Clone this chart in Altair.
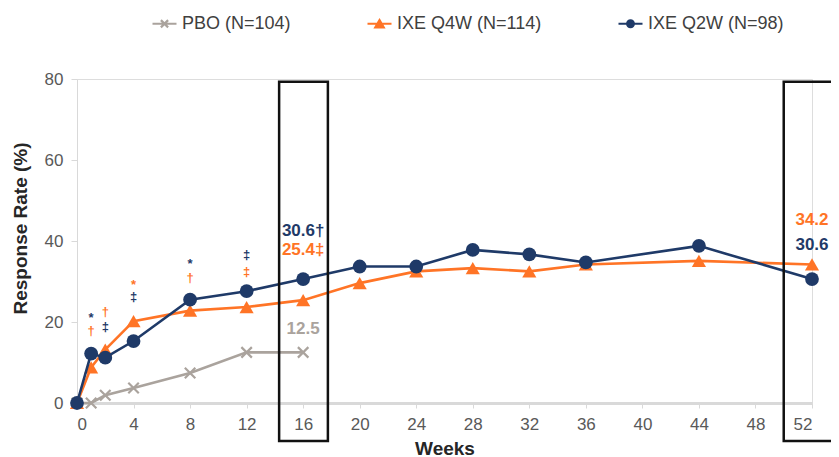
import altair as alt
import pandas as pd

# ---------------- data ----------------
series_names = ["PBO (N=104)", "IXE Q4W (N=114)", "IXE Q2W (N=98)"]
series_colors = ["#aaa39d", "#ff7426", "#1f3a68"]

x_ticks = [0, 4, 8, 12, 16, 20, 24, 28, 32, 36, 40, 44, 48, 52]
y_ticks = [0, 20, 40, 60, 80]

pbo_weeks = [0, 1, 2, 4, 8, 12, 16]
pbo_values = [0, 0, 1.9, 3.7, 7.4, 12.5, 12.5]

ixe_weeks = [0, 1, 2, 4, 8, 12, 16, 20, 24, 28, 32, 36, 44, 52]
q4w_values = [0, 8.8, 13.2, 20.2, 22.8, 23.7, 25.4, 29.6, 32.5, 33.3, 32.5, 34.2, 35.1, 34.2]
q2w_values = [0, 12.2, 11.2, 15.3, 25.5, 27.6, 30.6, 33.7, 33.7, 37.8, 36.7, 34.7, 38.8, 30.6]

# value labels
label_weeks = [16, 16, 16, 52, 52]
label_y = [42.5, 37.8, 18.3, 45.2, 39.0]
label_text = ["30.6†", "25.4‡", "12.5", "34.2", "30.6"]
label_series = [series_names[2], series_names[1], series_names[0], series_names[1], series_names[2]]

# significance markers
sig_weeks = [1, 1, 2, 2, 4, 4, 8, 8, 12, 12]
sig_y = [21.0, 17.8, 22.5, 18.8, 29.2, 26.2, 34.2, 30.9, 36.5, 32.3]
sig_text = ["*", "†", "†", "‡", "*", "‡", "*", "†", "‡", "‡"]
sig_series = [series_names[2], series_names[1], series_names[1], series_names[2],
              series_names[1], series_names[2], series_names[2], series_names[1],
              series_names[2], series_names[1]]

# highlight boxes (in data units)
box_left = [14.3, 50.0]
box_right = [17.75, 57.0]
box_top = [79.3, 79.3]
box_bottom = [-9.4, -9.4]

# ---------------- frames ----------------
rows = []
for w, v in zip(pbo_weeks, pbo_values):
    rows.append({"week": w, "value": v, "series": series_names[0]})
for w, v in zip(ixe_weeks, q4w_values):
    rows.append({"week": w, "value": v, "series": series_names[1]})
for w, v in zip(ixe_weeks, q2w_values):
    rows.append({"week": w, "value": v, "series": series_names[2]})
df = pd.DataFrame(rows)

labels_df = pd.DataFrame({"week": label_weeks, "value": label_y, "text": label_text, "series": label_series})
sig_df = pd.DataFrame({"week": sig_weeks, "value": sig_y, "text": sig_text, "series": sig_series})
box_df = pd.DataFrame({"x1": box_left, "x2": box_right, "y1": box_top, "y2": box_bottom})

FONT = "Liberation Sans"

x_enc = alt.X("week:Q", scale=alt.Scale(domain=[0, 52], nice=False),
              axis=alt.Axis(values=x_ticks, title="Weeks", grid=False,
                            domainColor="#d9d9d9", domainWidth=3,
                            tickColor="#d9d9d9", tickSize=5, tickWidth=1,
                            labelPadding=8, labelFontSize=17, labelColor="#595959",
                            labelFont=FONT, titleFont=FONT, titleFontSize=19,
                            titleFontWeight="bold", titleColor="#262626", titlePadding=7))
y_enc = alt.Y("value:Q", scale=alt.Scale(domain=[0, 80], nice=False),
              axis=alt.Axis(values=y_ticks, title="Response Rate (%)", grid=False,
                            domainColor="#d9d9d9", domainWidth=1,
                            tickColor="#d9d9d9", tickSize=6,
                            labelPadding=8, labelFontSize=17, labelColor="#595959",
                            labelFont=FONT, titleFont=FONT, titleFontSize=19,
                            titleFontWeight="bold", titleColor="#262626", titlePadding=14,
                            titleY=149))

color_scale = alt.Scale(domain=series_names, range=series_colors)
color_enc = alt.Color("series:N", scale=color_scale, legend=None)

base = alt.Chart(df).encode(x=x_enc, y=y_enc, color=color_enc)

layers = []
marker_specs = [
    dict(shape="M-1,-1L1,1M-1,1L1,-1", filled=False, size=110, strokeWidth=2.2),
    dict(shape="triangle-up", filled=True, size=200),
    dict(shape="circle", filled=True, size=190),
]
for name, spec in zip(series_names, marker_specs):
    sub = base.transform_filter(alt.datum.series == name)
    layers.append(sub.mark_line(strokeWidth=2.6))
    layers.append(sub.mark_point(opacity=1, **spec))

# legend (built from the scale domain only)
legend_paths = [
    "M-1,0H1M-0.3,-0.3L0.3,0.3M-0.3,0.3L0.3,-0.3",
    "M-1,0H1M0,-0.3L0.35,0.3L-0.35,0.3Z",
    "M-1,0H1M0.28,0A0.28,0.28,0,1,1,-0.28,0A0.28,0.28,0,1,1,0.28,0Z",
]
leg = alt.Legend(title=None, orient="none", legendX=74, legendY=-69, direction="horizontal",
                 columns=3, symbolSize=576, symbolStrokeWidth=2.2, labelFontSize=18,
                 labelFont=FONT, labelColor="#404040", columnPadding=72, labelOffset=4,
                 padding=0)
legend_layer = alt.Chart(df).transform_filter("false").mark_point(filled=True, opacity=1).encode(
    fill=alt.Fill("series:N", scale=alt.Scale(domain=series_names, range=series_colors), legend=leg),
    stroke=alt.Stroke("series:N", scale=alt.Scale(domain=series_names, range=series_colors), legend=leg),
    shape=alt.Shape("series:N", scale=alt.Scale(domain=series_names, range=legend_paths), legend=leg),
)

labels = alt.Chart(labels_df).mark_text(font=FONT, fontSize=17, fontWeight="bold", baseline="middle").encode(
    x=alt.X("week:Q"), y=alt.Y("value:Q"), text="text:N", color=color_enc)
sigs = alt.Chart(sig_df).mark_text(font=FONT, fontSize=13, fontWeight="bold", baseline="middle").encode(
    x=alt.X("week:Q"), y=alt.Y("value:Q"), text="text:N", color=color_enc)

boxes = alt.Chart(box_df).mark_rect(fillOpacity=0, stroke="#111111", strokeWidth=2.5).encode(
    x="x1:Q", x2="x2:Q", y="y1:Q", y2="y2:Q")

chart = alt.layer(*layers, labels, sigs, boxes, legend_layer).resolve_scale(
    fill="independent", stroke="independent", shape="independent"
).properties(
    width=735, height=324,
    autosize=alt.AutoSizeParams(type="none"),
    padding={"left": 69, "top": 71, "right": 19, "bottom": 54},
).configure_view(strokeWidth=0).configure(font=FONT)

chart.save("out.html", embed_options={"renderer": "svg", "actions": False})
